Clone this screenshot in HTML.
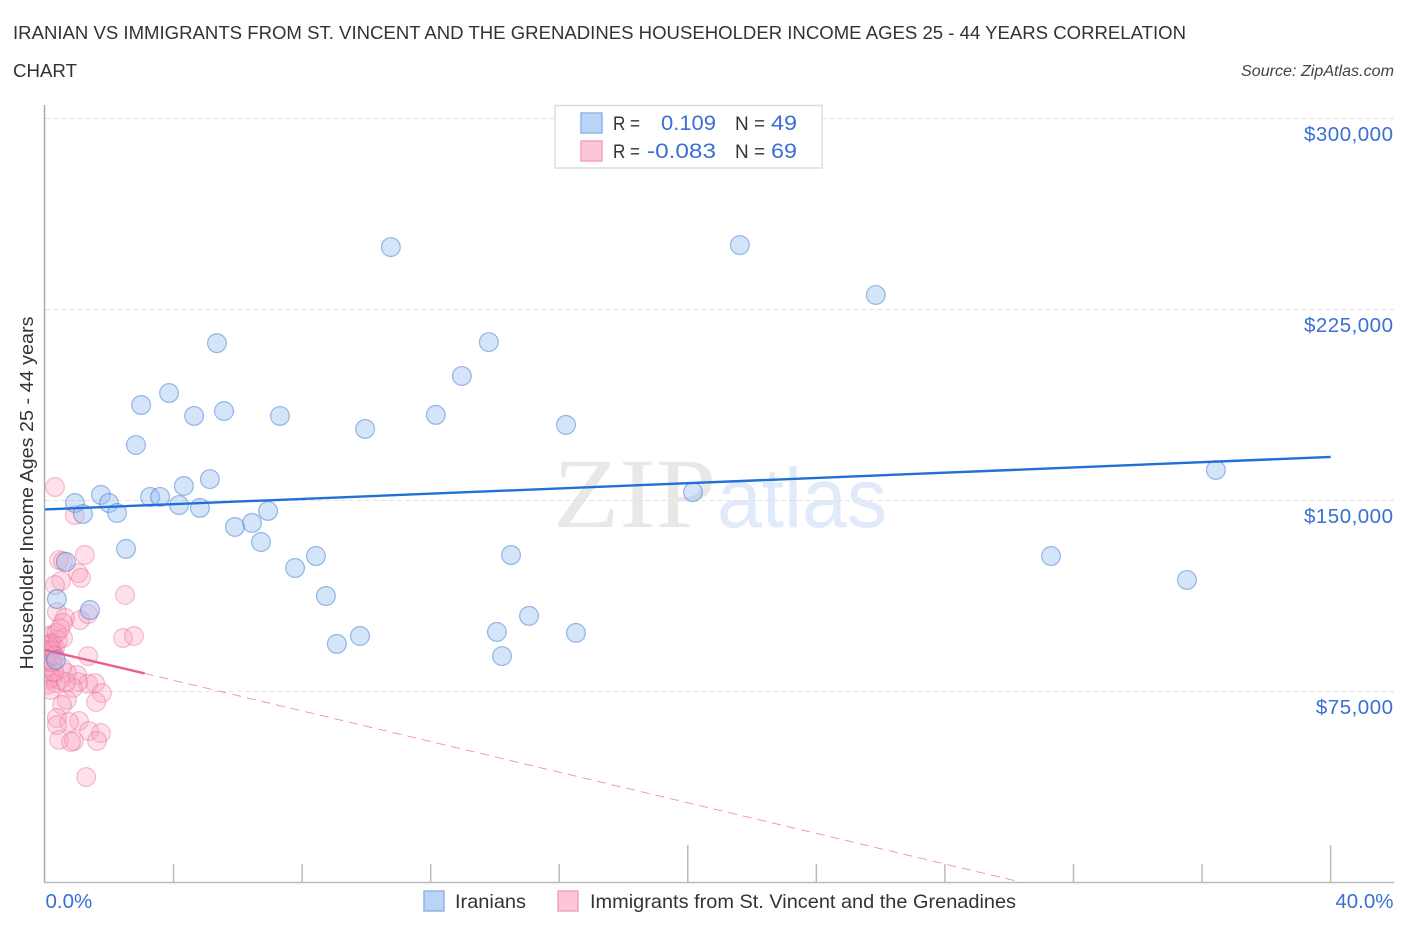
<!DOCTYPE html>
<html>
<head>
<meta charset="utf-8">
<title>Correlation Chart</title>
<style>
html,body{margin:0;padding:0;background:#fff;width:1406px;height:930px;overflow:hidden}
svg{display:block;font-family:"Liberation Sans",sans-serif}
</style>
</head>
<body>
<svg id="chart" width="1406" height="930" viewBox="0 0 1406 930" xmlns="http://www.w3.org/2000/svg">
<defs><clipPath id="plot-clip"><rect x="45" y="100" width="1360" height="782"/></clipPath></defs>
<text x="13" y="39" font-size="18.5" fill="#333" textLength="1173" lengthAdjust="spacingAndGlyphs">IRANIAN VS IMMIGRANTS FROM ST. VINCENT AND THE GRENADINES HOUSEHOLDER INCOME AGES 25 - 44 YEARS CORRELATION</text>
<text x="13" y="77" font-size="18.5" fill="#333" textLength="64" lengthAdjust="spacingAndGlyphs">CHART</text>
<text x="1241" y="76" font-size="15.5" font-style="italic" fill="#444" textLength="153" lengthAdjust="spacingAndGlyphs">Source: ZipAtlas.com</text>
<text x="553" y="527" font-family="'Liberation Serif',serif" font-size="100" fill="#e8e8e8" textLength="163" lengthAdjust="spacingAndGlyphs">ZIP</text>
<text x="717" y="527" font-size="84" fill="#e0eafa" textLength="170" lengthAdjust="spacingAndGlyphs">atlas</text>
<g id="grid"></g>
<g id="axes"></g>
<g id="series-pink" clip-path="url(#plot-clip)"></g>
<g id="series-blue" clip-path="url(#plot-clip)"></g>
<g id="trends" clip-path="url(#plot-clip)"></g>
<text transform="translate(33,493) rotate(-90)" font-size="18.5" fill="#333" text-anchor="middle" textLength="353" lengthAdjust="spacingAndGlyphs">Householder Income Ages 25 - 44 years</text>
<g>
<rect x="555" y="105.500" width="267" height="62.500" fill="#fff" stroke="#ddd" stroke-width="1.500"/>
<rect x="581" y="113" width="21" height="20" fill="#b9d4f7" stroke="#8fb5e8" stroke-width="1.500"/>
<rect x="581" y="141" width="21" height="20" fill="#fcc5d8" stroke="#f0a3bd" stroke-width="1.500"/>
<text x="613" y="130" font-size="19.500" fill="#333" textLength="27" lengthAdjust="spacingAndGlyphs">R =</text>
<text x="661" y="130" font-size="21.500" fill="#3b6fd4" textLength="55" lengthAdjust="spacingAndGlyphs">0.109</text>
<text x="735" y="130" font-size="19.500" fill="#333" textLength="30" lengthAdjust="spacingAndGlyphs">N =</text>
<text x="771" y="130" font-size="21.500" fill="#3b6fd4" textLength="26" lengthAdjust="spacingAndGlyphs">49</text>
<text x="613" y="158" font-size="19.500" fill="#333" textLength="27" lengthAdjust="spacingAndGlyphs">R =</text>
<text x="647" y="158" font-size="21.500" fill="#3b6fd4" textLength="69" lengthAdjust="spacingAndGlyphs">-0.083</text>
<text x="735" y="158" font-size="19.500" fill="#333" textLength="30" lengthAdjust="spacingAndGlyphs">N =</text>
<text x="771" y="158" font-size="21.500" fill="#3b6fd4" textLength="26" lengthAdjust="spacingAndGlyphs">69</text>
</g>
<g>
<rect x="424" y="891" width="20" height="20" fill="#b9d4f7" stroke="#8fb5e8" stroke-width="1.500"/>
<text x="455" y="908" font-size="19.500" fill="#333" textLength="71" lengthAdjust="spacingAndGlyphs">Iranians</text>
<rect x="558" y="891" width="20" height="20" fill="#fcc5d8" stroke="#f0a3bd" stroke-width="1.500"/>
<text x="590" y="908" font-size="19.500" fill="#333" textLength="426" lengthAdjust="spacingAndGlyphs">Immigrants from St. Vincent and the Grenadines</text>
</g>
</svg>
<script>
// Values: x = percent share, y = income in thousands of dollars
const iraniansX = [10.76,21.62,25.85,5.35,13.81,12.97,3.86,2.99,5.57,4.64,7.31,12.16,9.96,16.21,2.83,5.13,4.32,36.43,1.74,0.93,1.99,3.27,3.58,4.17,4.82,1.18,2.24,6.94,20.16,6.44,5.91,6.72,2.52,8.43,14.50,31.30,7.78,0.65,8.74,35.53,0.37,1.40,15.06,9.80,9.08,14.06,16.52,14.22,0.34];
const iraniansY = [249.3,250.1,230.5,211.6,212.0,198.7,192.0,187.3,184.9,183.0,183.0,183.4,177.9,179.5,171.6,158.2,155.5,161.8,152.0,148.8,148.8,151.2,151.2,148.0,146.9,144.5,144.9,145.7,153.1,141.0,139.4,133.5,130.8,128.0,128.4,128.0,123.3,125.7,112.3,118.6,111.1,106.8,104.5,96.6,93.5,98.2,97.8,88.7,87.2];
const immigrantsX = [0.31,0.93,1.24,0.44,0.56,1.03,1.12,0.50,0.31,2.49,0.37,1.09,1.34,0.62,0.56,2.43,2.77,0.25,0.56,0.22,1.34,1.00,0.68,1.56,1.34,1.77,1.59,1.03,0.87,0.68,0.53,0.37,1.06,0.75,0.37,1.37,1.74,1.62,0.44,0.90,0.81,1.28,0.09,0.16,0.03,0.09,0.22,0.31,0.06,0.16,0.25,0.40,0.37,0.47,0.06,0.16,0.09,0.22,0.06,0.34,0.47,0.53,0.65,0.28,0.16,0.03,0.22,0.12,0.31];
const immigrantsY = [155.1,144.1,128.4,126.4,126.0,121.3,119.4,118.2,116.6,112.7,106.0,102.9,105.2,103.7,101.7,95.8,96.6,97.0,95.8,93.9,88.7,81.3,82.1,78.1,77.8,74.2,70.7,78.5,76.2,71.5,69.5,64.4,63.2,62.8,61.6,59.3,58.5,55.4,55.8,55.4,55.0,41.2,96.6,93.5,91.1,91.1,91.1,91.9,89.1,90.3,89.1,95.0,97.8,99.7,82.5,81.3,79.3,80.1,77.4,78.1,79.3,84.0,78.5,82.5,75.4,87.2,86.4,92.7,88.7];
const blueTrendX = [0,40];
const blueTrendY = [146.3,166.9];
const pinkSolidX = [0,3.1];
const pinkSolidY = [91.1,81.9];
const pinkDashX = [3.1,30.35];
const pinkDashY = [81.9,0];
const yTickValues = [75,150,225,300];
const yTickLabels = ["$75,000","$150,000","$225,000","$300,000"];
const xTickValues = [0,4,8,12,16,20,24,28,32,36,40];
const xMajorTicks = [20,40];
const xEndLabels = ["0.0%","40.0%"];

const NS = "http://www.w3.org/2000/svg";
const sx = v => 45 + v * 32.14;
const sy = v => 882 - v * 2.5467;
function mk(parent, tag, attrs, text) {
  const el = document.createElementNS(NS, tag);
  for (const k in attrs) el.setAttribute(k, attrs[k]);
  if (text !== undefined) el.textContent = text;
  parent.appendChild(el);
  return el;
}
const grid = document.getElementById("grid");
const axes = document.getElementById("axes");
yTickValues.forEach((v, i) => {
  const gy = Math.round(sy(v)) + 0.5;
  const g = mk(grid, "line", {x1:45, x2:1395, y1:gy, y2:gy, stroke:"#e2e2e2", "stroke-width":1, "stroke-dasharray":"5 3"});
  
  
  const t = mk(axes, "text", {x:1393.5, y:sy(v)+23, "font-size":20.5, "letter-spacing":0.5, fill:"#3b6fd4", "text-anchor":"end"}, yTickLabels[i]);
  
  
});
const yAxis = mk(axes, "line", {x1:44.5, x2:44.5, y1:105, y2:883, stroke:"#aaa", "stroke-width":1.5});


const xAxis = mk(axes, "line", {x1:44, x2:1394, y1:882.5, y2:882.5, stroke:"#bbb", "stroke-width":1.5});


xTickValues.forEach(v => {
  if (v === 0) return;
  const top = xMajorTicks.includes(v) ? 845 : 864;
  const tk = mk(axes, "line", {x1:sx(v), x2:sx(v), y1:top, y2:882, stroke:"#bbb", "stroke-width":1.5});
  
  
});
const xLeft = mk(axes, "text", {x:45.5, y:908, "font-size":20.5, fill:"#3b6fd4"}, xEndLabels[0]);


const xRight = mk(axes, "text", {x:1393.5, y:908, "font-size":20.5, fill:"#3b6fd4", "text-anchor":"end"}, xEndLabels[1]);



const pink = document.getElementById("series-pink");
immigrantsX.forEach((x, i) => {
  const c = mk(pink, "circle", {cx:sx(x), cy:sy(immigrantsY[i]), r:9.4, fill:"rgba(248,165,192,0.34)", stroke:"rgba(232,95,140,0.38)", "stroke-width":1.2});
  
  
});
const blue = document.getElementById("series-blue");
iraniansX.forEach((x, i) => {
  const c = mk(blue, "circle", {cx:sx(x), cy:sy(iraniansY[i]), r:9.4, fill:"rgba(150,190,240,0.4)", stroke:"rgba(60,120,210,0.5)", "stroke-width":1.2});
  
  
});
const trends = document.getElementById("trends");
const tb = mk(trends, "line", {x1:sx(blueTrendX[0]), y1:sy(blueTrendY[0]), x2:sx(blueTrendX[1]), y2:sy(blueTrendY[1]), stroke:"#2070d8", "stroke-width":2.4});


const tp = mk(trends, "line", {x1:sx(pinkSolidX[0]), y1:sy(pinkSolidY[0]), x2:sx(pinkSolidX[1]), y2:sy(pinkSolidY[1]), stroke:"#e8608e", "stroke-width":2.4});


const td = mk(trends, "line", {x1:sx(pinkDashX[0]), y1:sy(pinkDashY[0]), x2:sx(pinkDashX[1]), y2:sy(pinkDashY[1]), stroke:"#e8608e", "stroke-width":0.9, "stroke-dasharray":"9 6", opacity:0.7});


</script>
</body>
</html>
